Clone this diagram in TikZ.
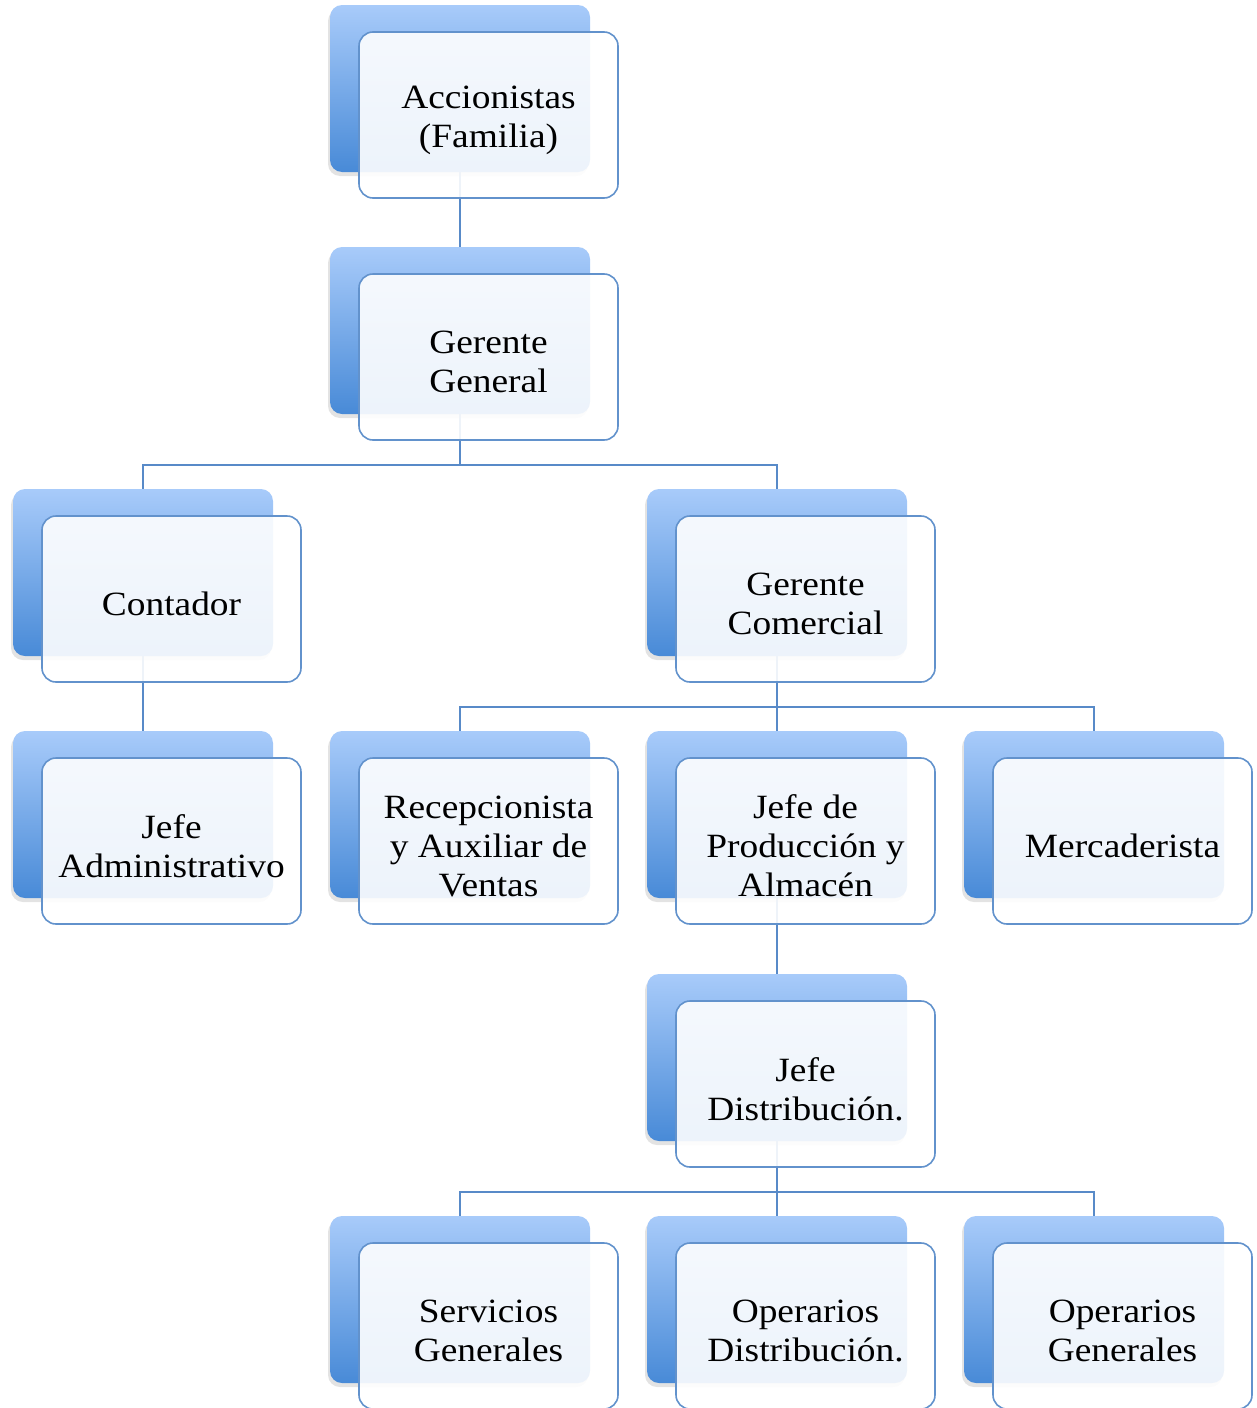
\documentclass[tikz,border=0pt]{standalone}
\usepackage{fontspec}
\setmainfont{Liberation Serif}[FakeStretch=1.1]
\usetikzlibrary{shadows,backgrounds}
\definecolor{bktop}{RGB}{168,203,250}
\definecolor{bkbot}{RGB}{72,138,215}
\definecolor{frame}{RGB}{98,146,204}
\definecolor{linec}{RGB}{88,138,200}
\tikzset{
  backbox/.style={rounded corners=12pt, top color=bktop, bottom color=bkbot, draw=none,
    minimum width=260pt, minimum height=167pt, inner sep=0pt,
    drop shadow={shadow xshift=-2pt, shadow yshift=-4pt, opacity=0.22}},
  frontbox/.style={rounded corners=14pt, draw=frame, line width=1.6pt, fill=white,
    fill opacity=0.9, minimum width=259pt, minimum height=166pt, inner sep=0pt},
  boxtext/.style={align=center, inner sep=0pt, font=\fontsize{34}{39}\selectfont},
  conn/.style={draw=linec, line width=2pt}
}
\newcommand\orgunit[4]{%
  \node[backbox] (#1B) at (#2+130,#3+83.5) {};
  \node[frontbox] (#1) at (#2+158.5,#3+110) {};
  \node[boxtext] (#1T) at ([yshift=-5pt]#1.center) {#4};
}
\begin{document}
\begin{tikzpicture}[x=1pt,y=-1pt]
\useasboundingbox (0,0) rectangle (1256,1408);
\orgunit{acc}{330}{5}{Accionistas\\(Familia)}
\orgunit{gen}{330}{247}{Gerente\\General}
\orgunit{cont}{13}{489}{Contador}
\orgunit{com}{647}{489}{Gerente\\Comercial}
\orgunit{adm}{13}{731}{Jefe\\Administrativo}
\orgunit{rec}{330}{731}{Recepcionista\\y Auxiliar de\\Ventas}
\orgunit{prod}{647}{731}{Jefe de\\Producción y\\Almacén}
\orgunit{mer}{964}{731}{Mercaderista}
\orgunit{dis}{647}{974}{Jefe\\Distribución.}
\orgunit{ser}{330}{1216}{Servicios\\Generales}
\orgunit{opd}{647}{1216}{Operarios\\Distribución.}
\orgunit{opg}{964}{1216}{Operarios\\Generales}
\coordinate (j1) at (460,465);
\coordinate (j2) at (777,707);
\coordinate (j3) at (777,1192);
\begin{scope}[on background layer]
\draw[conn] (accB.south) -- (genB.north);
\draw[conn] (genB.south) -- (j1);
\draw[conn] (contB.north) |- (j1) -| (comB.north);
\draw[conn] (contB.south) -- (admB.north);
\draw[conn] (comB.south) -- (j2);
\draw[conn] (recB.north) |- (j2) -| (merB.north);
\draw[conn] (j2) -- (prodB.north);
\draw[conn] (prodB.south) -- (disB.north);
\draw[conn] (disB.south) -- (j3);
\draw[conn] (serB.north) |- (j3) -| (opgB.north);
\draw[conn] (j3) -- (opdB.north);
\end{scope}
\end{tikzpicture}
\end{document}
